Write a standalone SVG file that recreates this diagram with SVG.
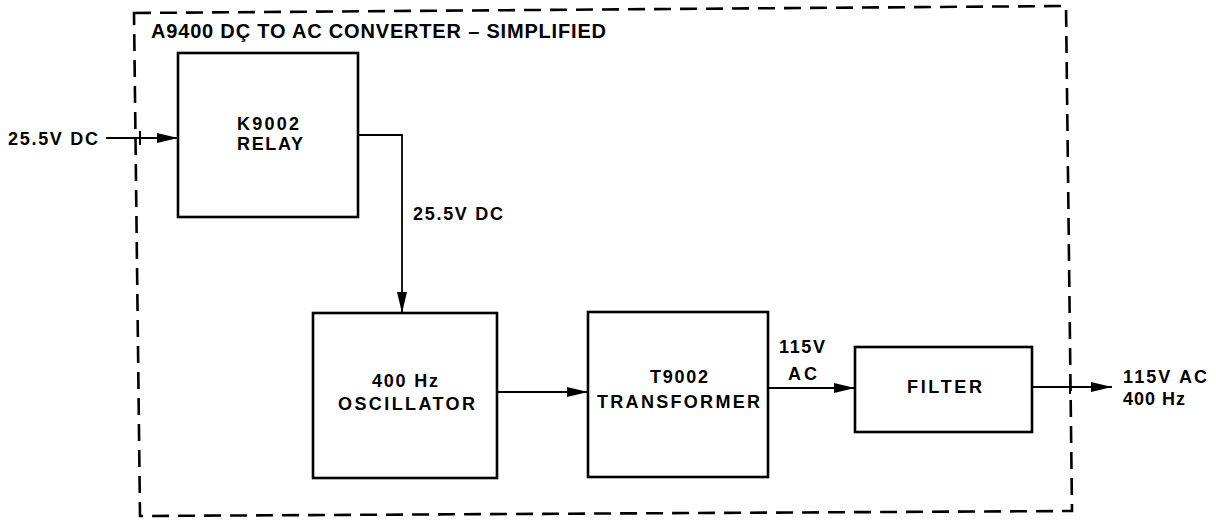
<svg xmlns="http://www.w3.org/2000/svg" width="1216" height="520" viewBox="0 0 1216 520">
<defs>
<marker id="ah" markerUnits="userSpaceOnUse" markerWidth="22" markerHeight="12" refX="21" refY="6" orient="auto">
<path d="M0,1 L21,6 L0,11 Z" fill="#000"/>
</marker>
<style>
.box{fill:#fff;stroke:#000;stroke-width:2.6}
.bd{fill:none;stroke:#000;stroke-width:2.6;stroke-dasharray:17 9}
.ln{fill:none;stroke:#000;stroke-width:2}
.t{font-family:"Liberation Sans",Arial,Helvetica,sans-serif;font-weight:bold;font-size:18px;fill:#000}
.ti{font-size:20px}
.c{text-anchor:middle}
</style>
</defs>
<rect width="1216" height="520" fill="#fff"/>
<g id="border">
<path class="bd" d="M134,13 L1066,6 L1072,511 L140,516 Z"/>
<text class="t ti" x="151" y="38" textLength="455" lengthAdjust="spacing">A9400 DÇ TO AC CONVERTER – SIMPLIFIED</text>
</g>
<g id="connectors">
<path class="ln" d="M106,138 L178,138" marker-end="url(#ah)"/>
<path class="ln" d="M140,131 L140,145"/>
<path class="ln" d="M358,135 L402,135 L402,313" marker-end="url(#ah)" style="stroke-width:1.8"/>
<path class="ln" d="M497,392 L588,392" marker-end="url(#ah)"/>
<path class="ln" d="M768,388 L855,388" marker-end="url(#ah)"/>
<path class="ln" d="M1032,387 L1112,387" marker-end="url(#ah)"/>
<path class="ln" d="M1070,380 L1070,394"/>
<text class="t" x="8" y="145" textLength="90" lengthAdjust="spacing">25.5V DC</text>
<text class="t" x="413" y="220" textLength="90" lengthAdjust="spacing">25.5V DC</text>
<text class="t" x="779" y="353" textLength="46" lengthAdjust="spacing">115V</text>
<text class="t" x="788" y="380" textLength="29" lengthAdjust="spacing">AC</text>
<text class="t" x="1123" y="383" textLength="84" lengthAdjust="spacing">115V AC</text>
<text class="t" x="1123" y="405" textLength="62" lengthAdjust="spacing">400 Hz</text>
</g>
<g id="relay">
<rect class="box" x="178" y="53" width="180" height="164"/>
<text class="t" x="237" y="130" textLength="62" lengthAdjust="spacing">K9002</text>
<text class="t" x="237" y="150" textLength="66" lengthAdjust="spacing">RELAY</text>
</g>
<g id="oscillator">
<rect class="box" x="313" y="313" width="184" height="165"/>
<text class="t" x="372" y="387" textLength="66" lengthAdjust="spacing">400 Hz</text>
<text class="t" x="338" y="410" textLength="137" lengthAdjust="spacing">OSCILLATOR</text>
</g>
<g id="transformer">
<rect class="box" x="588" y="312" width="180" height="165"/>
<text class="t" x="650" y="383" textLength="58" lengthAdjust="spacing">T9002</text>
<text class="t" x="597" y="408" textLength="163" lengthAdjust="spacing">TRANSFORMER</text>
</g>
<g id="filter">
<rect class="box" x="855" y="347" width="177" height="85"/>
<text class="t" x="907" y="393" textLength="75" lengthAdjust="spacing">FILTER</text>
</g>
</svg>
